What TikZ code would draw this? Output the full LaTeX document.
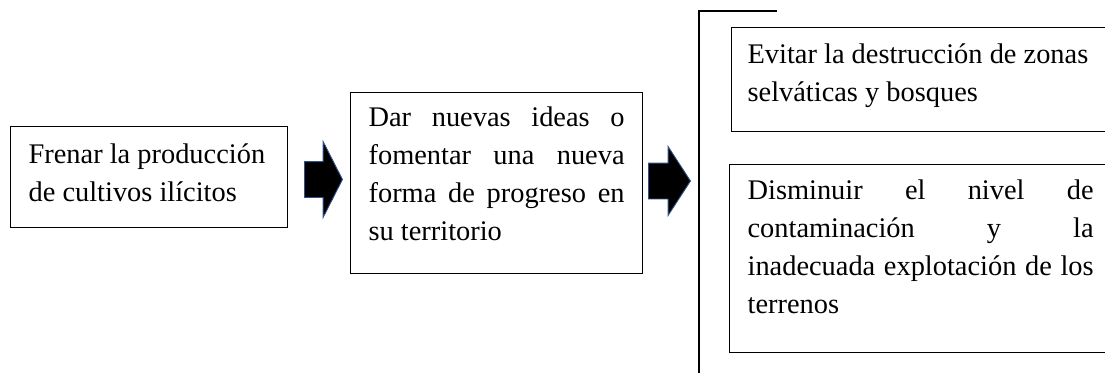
\documentclass[tikz,border=0pt]{standalone}
\usepackage{fontspec}
\setmainfont{Liberation Serif}
\usepackage{tikz}
\usetikzlibrary{shapes.arrows}

\definecolor{arrowedge}{RGB}{47,82,143}
\newcommand{\fullline}[1]{{\spaceskip=0.25em plus 1fill\makebox[\linewidth][s]{#1}}}

\begin{document}
\begin{tikzpicture}[x=1pt,y=-1pt]
      \tikzstyle{tbox} = [draw, line width=1.2pt, anchor=north west, align=justify, inner ysep=0pt, inner xsep=18pt, font=\fontsize{28.4}{38}\selectfont]
      \tikzstyle{barrow} = [single arrow, draw=arrowedge, line width=0.9pt, fill=black, inner xsep=0pt, inner ysep=17.5pt, anchor=tail]

      \useasboundingbox (0,0) rectangle (1105,372);
      \clip (0,0) rectangle (1105,372);

      \node[tbox, text width=241pt, text height=37pt, text depth=64pt] (frenar) at (10,126) {\mbox{Frenar la producción}\\\mbox{de cultivos ilícitos}};
      \node[tbox, text width=256pt, text height=34pt, text depth=147pt] (ideas) at (350,92) {\fullline{Dar nuevas ideas o}\\\fullline{fomentar una nueva}\\\fullline{forma de progreso en}\\\mbox{su territorio}};
      \node[tbox, inner xsep=16pt, text width=348pt, text height=36pt, text depth=68pt] (evitar) at (731,27) {\mbox{Evitar la destrucción de zonas}\\\mbox{selváticas y bosques}};
      \node[tbox, text width=346pt, text height=35pt, text depth=152.5pt] (disminuir) at (729,164) {\fullline{Disminuir el nivel de}\\\fullline{contaminación y la}\\\fullline{inadecuada explotación de los}\\\mbox{terrenos}};

      % flechas
      \node[barrow, minimum height=38pt, single arrow head extend=20pt, single arrow tip angle=126] (flecha1) at (304,179.5) {};
      \node[barrow, minimum height=42pt, single arrow head extend=16.5pt, single arrow tip angle=114] (flecha2) at (648,181) {};

      % corchete
      \coordinate (cortop) at (777,11);
      \coordinate (corcorner) at (699,11);
      \coordinate (corend) at (699,380);
      \draw[line width=2.6pt] (cortop) -- (corcorner) -- (corend);
\end{tikzpicture}
\end{document}
